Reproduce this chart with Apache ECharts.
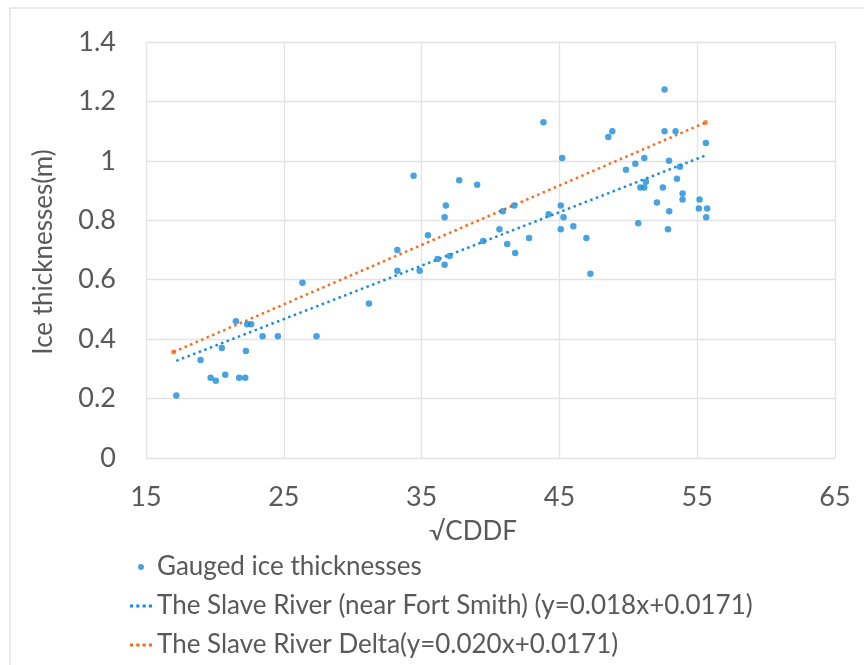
<!DOCTYPE html>
<html>
<head>
<meta charset="utf-8">
<script src="https://cdn.jsdelivr.net/npm/echarts@6/dist/echarts.min.js"></script>
<style>
html,body{margin:0;padding:0;background:#fff;}
#c{width:864px;height:665px;}
</style>
</head>
<body>
<div id="c"></div>
<script>
// Gauged ice thicknesses (√CDDF, m)
var gaugedX = [17.2,18.96,19.69,20.07,20.75,20.5,21.52,21.76,22.2,22.25,22.34,22.63,23.46,24.57,26.35,27.37,31.18,33.24,33.24,34.42,34.86,35.46,36.16,36.67,36.67,36.76,37.03,37.73,39.03,39.47,40.65,40.89,41.21,41.72,41.79,42.8,43.84,44.22,45.2,45.1,45.3,45.1,46.01,46.96,47.25,48.55,48.84,49.83,50.51,50.72,51.16,50.87,51.16,51.28,52.08,52.51,52.63,52.63,52.95,52.97,52.88,53.43,53.75,53.53,53.94,53.94,55.17,55.12,55.72,55.65,55.63];
var gaugedY = [0.21,0.33,0.27,0.26,0.28,0.37,0.46,0.27,0.27,0.36,0.45,0.45,0.41,0.41,0.59,0.41,0.52,0.70,0.63,0.95,0.63,0.75,0.67,0.65,0.81,0.85,0.68,0.935,0.92,0.73,0.77,0.83,0.72,0.85,0.69,0.74,1.13,0.82,1.01,0.85,0.81,0.77,0.78,0.74,0.62,1.08,1.10,0.97,0.99,0.79,1.01,0.91,0.91,0.93,0.86,0.91,1.24,1.10,1.00,0.83,0.77,1.10,0.98,0.94,0.89,0.87,0.87,0.84,0.84,0.81,1.06];
// Trend line end points
var fortSmithX = [17.2, 55.6];
var fortSmithY = [0.327, 1.018];
var deltaX = [17.0, 55.6];
var deltaY = [0.357, 1.129];
// Axis ticks
var xTicks = [15, 25, 35, 45, 55, 65];
var yTicks = [0, 0.2, 0.4, 0.6, 0.8, 1, 1.2, 1.4];

var names = {
  gauged: 'Gauged ice thicknesses',
  fs: 'The Slave River (near Fort Smith) (y=0.018x+0.0171)',
  delta: 'The Slave River Delta(y=0.020x+0.0171)'
};
var BLUE = '#1a8cd8', ORANGE = '#fb6a1a', TXT = '#595959', GRID = '#e3e3e3';
var FONT = 'Lato, "Open Sans", sans-serif';
var DOTS = 'path://M0,0h3v3h-3z M6,0h3v3h-3z M12,0h3v3h-3z M18,0h3v3h-3z';

function pairs(xs, ys){ return xs.map(function(x,i){ return [x, ys[i]]; }); }

var chart = echarts.init(document.getElementById('c'), null, {renderer:'canvas'});
chart.setOption({
  backgroundColor: '#fff',
  animation: false,
  textStyle: {fontFamily: FONT, color: TXT},
  grid: {left: 146, right: 29, top: 42, bottom: 207},
  xAxis: {
    type: 'value', min: xTicks[0], max: xTicks[xTicks.length-1], interval: 10,
    axisLine: {show: false}, axisTick: {show: false},
    splitLine: {show: true, lineStyle: {color: GRID, width: 1.3}},
    axisLabel: {fontSize: 27, color: TXT, fontFamily: FONT, margin: 26}
  },
  yAxis: {
    type: 'value', min: yTicks[0], max: yTicks[yTicks.length-1], interval: 0.2,
    axisLine: {show: false}, axisTick: {show: false},
    splitLine: {show: true, lineStyle: {color: GRID, width: 1.3}},
    axisLabel: {fontSize: 27, color: TXT, fontFamily: FONT, margin: 30}
  },
  legend: {
    orient: 'vertical', left: 125, top: 549, itemGap: 13,
    itemWidth: 22, itemHeight: 6, symbolKeepAspect: true,
    textStyle: {fontSize: 26, color: TXT, fontFamily: FONT},
    data: [
      {name: names.gauged, icon: 'circle'},
      {name: names.fs, icon: DOTS},
      {name: names.delta, icon: DOTS}
    ]
  },
  graphic: [
    {type: 'rect', silent: true, shape: {x: 10, y: 8, width: 900, height: 700},
     style: {fill: 'none', stroke: '#e2e2e2', lineWidth: 1.5}},
    {type: 'text', x: 473, y: 532, silent: true,
     style: {text: '√CDDF', fontSize: 26, fontFamily: FONT, fill: TXT, align: 'center', verticalAlign: 'middle'}},
    {type: 'text', x: 44, y: 252, rotation: Math.PI/2, silent: true,
     style: {text: 'Ice thicknesses(m)', fontSize: 26, fontFamily: FONT, fill: TXT, align: 'center', verticalAlign: 'middle'}}
  ],
  series: [
    {
      name: names.fs, type: 'line', data: pairs(fortSmithX, fortSmithY),
      showSymbol: false, symbol: 'none', color: BLUE,
      lineStyle: {color: BLUE, width: 2.5, type: [2.5, 3.5]}, z: 2
    },
    {
      name: names.delta, type: 'line', data: pairs(deltaX, deltaY),
      showSymbol: false, symbol: 'none', color: ORANGE,
      lineStyle: {color: ORANGE, width: 2.5, type: [2.5, 3.5]}, z: 2
    },
    {
      name: 'deltaEnds', type: 'scatter', data: pairs(deltaX, deltaY),
      symbolSize: 5, itemStyle: {color: ORANGE}, z: 2, silent: true
    },
    {
      name: names.gauged, type: 'scatter', data: pairs(gaugedX, gaugedY),
      symbolSize: 6.5, itemStyle: {color: BLUE}, z: 3
    }
  ]
});
</script>
</body>
</html>
